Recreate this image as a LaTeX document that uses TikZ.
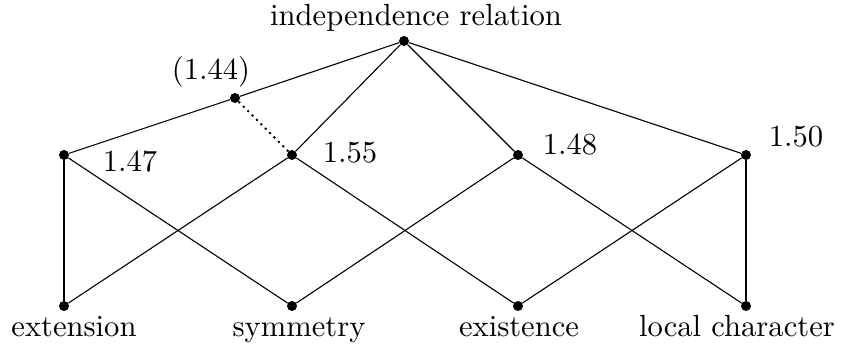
\documentclass[tikz,border=0pt]{standalone}
\font\lblfont="[lmroman10-regular.otf]" at 30.6pt
\begin{document}
\begin{tikzpicture}[x=1pt,y=-1pt,
  pt/.style={circle,fill=black,inner sep=0pt,minimum size=10pt},
  edge/.style={line width=1.1pt},
  thickedge/.style={line width=2.6pt},
  dotedge/.style={line width=2pt,dash pattern=on 2pt off 4.2pt},
  lbl/.style={font=\lblfont,anchor=base,inner sep=0pt}]
\useasboundingbox (0,0) rectangle (841,347);
\node[pt] (top) at (404,41) {};
\node[pt] (p) at (235,98) {};
\node[pt] (a) at (64,155) {};
\node[pt] (b) at (292,155) {};
\node[pt] (c) at (518,155) {};
\node[pt] (d) at (746,155) {};
\node[pt] (e) at (64,306) {};
\node[pt] (f) at (292,306) {};
\node[pt] (g) at (518,306) {};
\node[pt] (h) at (746,306) {};
\draw[edge] (top) -- (p) -- (a);
\draw[edge] (top) -- (b);
\draw[edge] (top) -- (c);
\draw[edge] (top) -- (d);
\draw[dotedge] (p) -- (b);
\draw[thickedge] (a) -- (e);
\draw[thickedge] (d) -- (h);
\draw[edge] (a) -- (f);
\draw[edge] (b) -- (e);
\draw[edge] (b) -- (g);
\draw[edge] (c) -- (f);
\draw[edge] (c) -- (h);
\draw[edge] (d) -- (g);
\node[lbl] (ltop) at (416,26) {independence relation};
\node[lbl] (lp) at (211,80) {(1.44)};
\node[lbl] (la) at (130,172) {1.47};
\node[lbl] (lb) at (350,163) {1.55};
\node[lbl] (lc) at (570,155) {1.48};
\node[lbl] (ld) at (796,147) {1.50};
\node[lbl] (le) at (74,337) {extension};
\node[lbl] (lf) at (299,337) {symmetry};
\node[lbl] (lg) at (519,337) {existence};
\node[lbl] (lh) at (737,337) {local character};
\end{tikzpicture}
\end{document}
